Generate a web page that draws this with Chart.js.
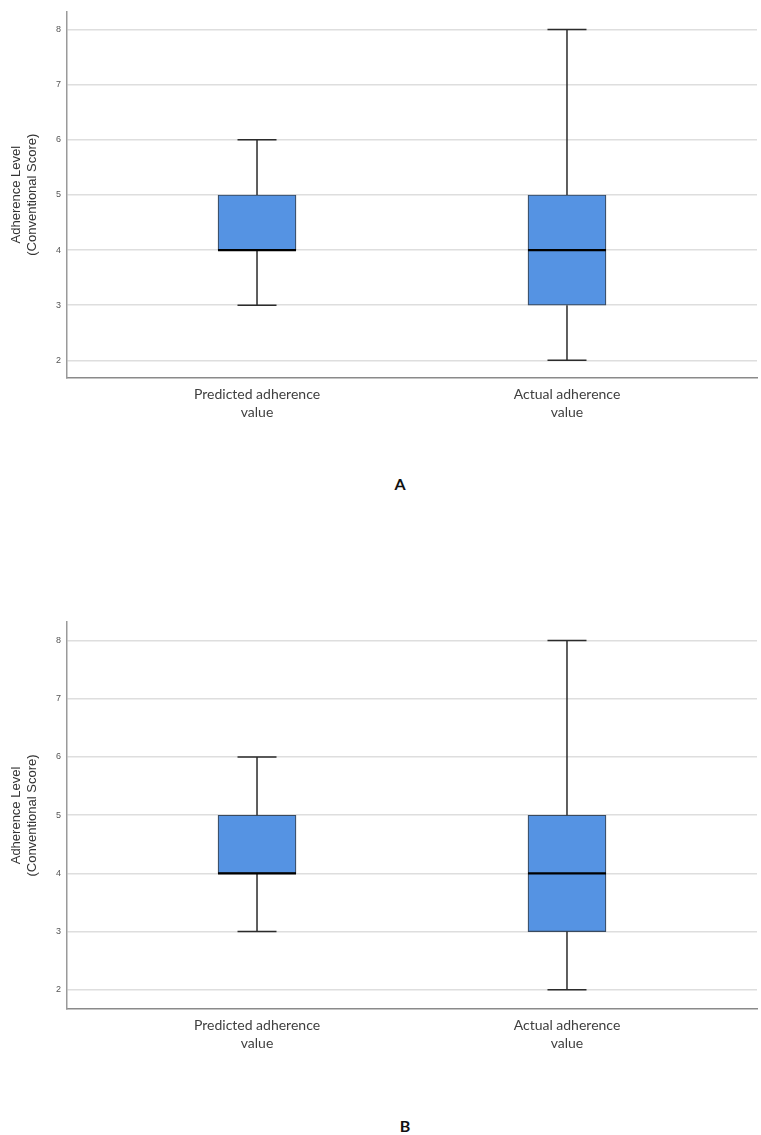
<!DOCTYPE html>
<html>
<head>
<meta charset="utf-8">
<script src="https://cdn.jsdelivr.net/npm/chart.js@4/dist/chart.umd.min.js"></script>
<style>
  html, body { margin: 0; padding: 0; background: #fff; }
  body { width: 761px; height: 1135px; position: relative; overflow: hidden; }
  canvas { position: absolute; left: 0; }
  .panel { position: absolute; font-family: Lato, "Open Sans", sans-serif; font-weight: bold; font-size: 16px; color: #111; transform: translate(-50%, -50%); }
</style>
</head>
<body>
<canvas id="chartA" width="761" height="432" style="top:0px"></canvas>
<div class="panel" style="left:400px; top:483px;">A</div>
<canvas id="chartB" width="761" height="470" style="top:590px"></canvas>
<div class="panel" style="left:405px; top:1125px;">B</div>
<script>
// ---- data ----
const categories = [["Predicted adherence", "value"], ["Actual adherence", "value"]];
const positions = [1, 2];
const whiskerMin = [3, 2];
const quartile1 = [4, 3];
const medians = [4, 4];
const quartile3 = [5, 5];
const whiskerMax = [6, 8];
const yTicks = [2, 3, 4, 5, 6, 7, 8];

const boxPlugin = {
  id: 'boxWhiskers',
  afterDatasetsDraw(chart) {
    const ctx = chart.ctx;
    const xs = chart.scales.x, ys = chart.scales.y;
    const meta = chart.getDatasetMeta(0);
    ctx.save();
    positions.forEach((p, i) => {
      const x = xs.getPixelForValue(p);
      const bar = meta.data[i];
      const half = bar ? bar.width / 2 : 39;
      const capHalf = half / 2;
      const yMin = ys.getPixelForValue(whiskerMin[i]);
      const yQ1 = ys.getPixelForValue(quartile1[i]);
      const yMed = ys.getPixelForValue(medians[i]);
      const yQ3 = ys.getPixelForValue(quartile3[i]);
      const yMax = ys.getPixelForValue(whiskerMax[i]);
      ctx.strokeStyle = '#2b2b2b';
      ctx.lineWidth = 1.5;
      ctx.beginPath();
      ctx.moveTo(x, yQ3); ctx.lineTo(x, yMax);
      ctx.moveTo(x - capHalf, yMax); ctx.lineTo(x + capHalf, yMax);
      ctx.moveTo(x, yQ1); ctx.lineTo(x, yMin);
      ctx.moveTo(x - capHalf, yMin); ctx.lineTo(x + capHalf, yMin);
      ctx.stroke();
      ctx.strokeStyle = '#000';
      ctx.lineWidth = 2.2;
      ctx.beginPath();
      ctx.moveTo(x - half, yMed); ctx.lineTo(x + half, yMed);
      ctx.stroke();
    });
    ctx.restore();
  }
};

function makeChart(id, padTop, xAxisHeight, yMin, yMax) {
  const boxData = positions.map((p, i) => ({ x: p, y: [quartile1[i], quartile3[i]] }));
  return new Chart(document.getElementById(id), {
    type: 'bar',
    data: {
      datasets: [{
        data: boxData,
        backgroundColor: '#5593e3',
        borderColor: '#3a4a5e',
        borderWidth: 1.2,
        borderSkipped: false,
        barThickness: 78
      }]
    },
    options: {
      responsive: false,
      animation: false,
      devicePixelRatio: 1,
      layout: { padding: { top: padTop, right: 4, left: 0, bottom: 0 } },
      plugins: { legend: { display: false }, tooltip: { enabled: false } },
      scales: {
        x: {
          type: 'linear',
          offset: false,
          bounds: 'data',
          min: 0.387,
          max: 2.613,
          afterBuildTicks: (s) => { s.ticks = positions.map(v => ({ value: v })); },
          afterFit: (s) => { s.height = xAxisHeight; },
          grid: { display: false, drawTicks: false, offset: false },
          border: { display: true, color: '#8a8a8a', width: 1.5 },
          ticks: {
            padding: 7,
            color: '#404040',
            font: { family: 'Lato, "Open Sans", sans-serif', size: 14, lineHeight: 1.3 },
            maxRotation: 0,
            callback: (v) => categories[positions.indexOf(v)] || ''
          }
        },
        y: {
          min: yMin,
          max: yMax,
          afterBuildTicks: (s) => { s.ticks = yTicks.map(v => ({ value: v })); },
          afterFit: (s) => { s.width = 67; },
          grid: { color: '#dedede', lineWidth: 1.5, drawTicks: false },
          border: { display: true, color: '#9a9a9a', width: 1.5 },
          ticks: {
            padding: 6,
            color: '#555',
            font: { family: '"Liberation Sans", Arial, sans-serif', size: 9 }
          },
          title: {
            display: true,
            text: ['Adherence Level', '(Conventional Score)'],
            color: '#333',
            font: { family: '"Liberation Sans", Arial, sans-serif', size: 13, lineHeight: 1.25 },
            padding: { top: 8, bottom: 0 }
          }
        }
      }
    },
    plugins: [boxPlugin]
  });
}

makeChart('chartA', 4, 54, 1.68, 8.33);
makeChart('chartB', 32, 51, 1.67, 8.32);
</script>
</body>
</html>
